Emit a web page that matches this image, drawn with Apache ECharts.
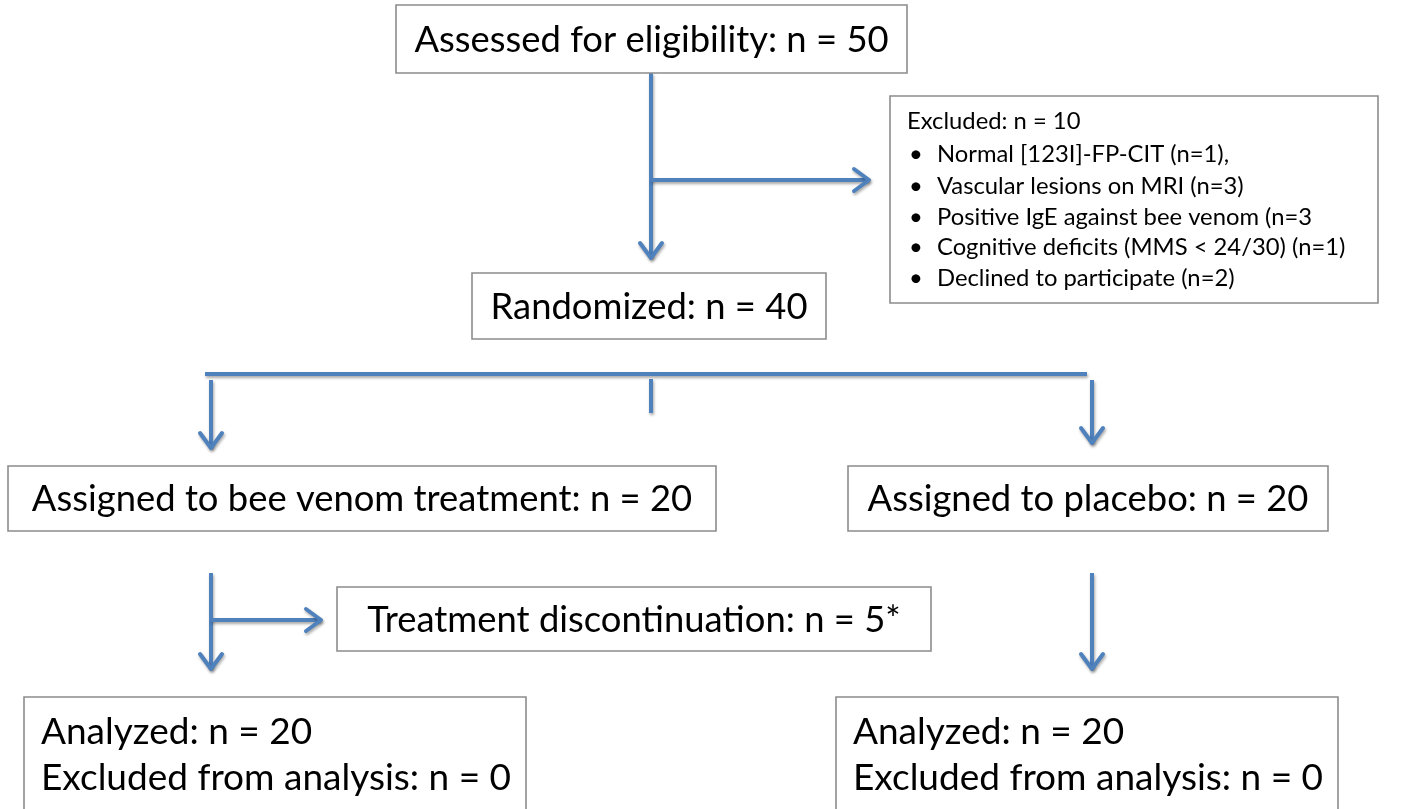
<!DOCTYPE html>
<html>
<head>
<meta charset="utf-8">
<script src="https://cdn.jsdelivr.net/npm/echarts@6/dist/echarts.min.js"></script>
<style>
html,body{margin:0;padding:0;background:#fff;}
#chart{width:1408px;height:809px;}
</style>
</head>
<body>
<div id="chart"></div>
<script>
// ---- Data ----
const stageLabels = ['Assessed for eligibility', 'Randomized', 'Assigned to bee venom treatment', 'Assigned to placebo', 'Treatment discontinuation'];
const stageCounts = [50, 40, 20, 20, 5];
const stageSuffix = ['', '', '', '', '*'];
const excludedLabel = 'Excluded';
const excludedTotal = 10;
const exclusionReasons = ['Normal [123I]-FP-CIT (n={n}),', 'Vascular lesions on MRI (n={n})', 'Positive IgE against bee venom (n={n}', 'Cognitive deficits (MMS < 24/30) (n={n})', 'Declined to participate (n={n})'];
const exclusionCounts = [1, 3, 3, 1, 2];
const analysisGroups = ['bee venom', 'placebo'];
const analyzedCounts = [20, 20];
const excludedFromAnalysis = [0, 0];

// ---- Layout (diagram units) ----
const W = 1408, H = 809;
const FONT = 'Lato, "Open Sans", sans-serif';
const stageBoxes = [
  {x0: 396, y0: 5, x1: 907, y1: 73, fs: 36.4},
  {x0: 472, y0: 273, x1: 826, y1: 339, fs: 36.4},
  {x0: 8, y0: 466, x1: 716, y1: 531, fs: 36.4},
  {x0: 848, y0: 466, x1: 1328, y1: 531, fs: 36.4},
  {x0: 337, y0: 587, x1: 931, y1: 651, fs: 36.4}
];
const excludedBox = {x0: 890, y0: 96, x1: 1378, y1: 303, fs: 23.8, tx: 907, bx: 909, ix: 937, ly: [121, 154, 186, 217, 247, 278]};
const analysisBoxes = [
  {x0: 24, y0: 697, x1: 526, y1: 812, tx: 41, ly: [732, 778], fs: 37},
  {x0: 836, y0: 697, x1: 1338, y1: 812, tx: 853, ly: [732, 778], fs: 37}
];
const connectors = [
  {pts: [[651, 73], [651, 258]], arrow: true},
  {pts: [[651, 180], [869, 180]], arrow: true},
  {pts: [[205, 374], [1087, 374]], arrow: false},
  {pts: [[651, 379], [651, 413]], arrow: false},
  {pts: [[211, 380], [211, 448]], arrow: true},
  {pts: [[1092, 380], [1092, 443]], arrow: true},
  {pts: [[211, 573], [211, 669]], arrow: true},
  {pts: [[211, 620], [321, 620]], arrow: true},
  {pts: [[1092, 573], [1092, 669]], arrow: true}
];

const LINE = '#4f81bd';
const BORDER = '#8c8c8c';

function boxRect(api, b) {
  const p0 = api.coord([b.x0, b.y0]);
  const p1 = api.coord([b.x1, b.y1]);
  return {
    type: 'rect',
    shape: {x: p0[0], y: p0[1], width: p1[0] - p0[0], height: p1[1] - p0[1]},
    style: {fill: '#fff', stroke: BORDER, lineWidth: 1.6}
  };
}
function txt(api, x, y, s, fs, align) {
  const p = api.coord([x, y]);
  return {
    type: 'text',
    style: {x: p[0], y: p[1], text: s, fill: '#000', fontSize: fs, fontFamily: FONT, align: align, verticalAlign: 'middle'}
  };
}

const nodeItems = [];
stageBoxes.forEach((b, i) => nodeItems.push({kind: 'stage', i: i}));
nodeItems.push({kind: 'excluded', i: 0});
analysisBoxes.forEach((b, i) => nodeItems.push({kind: 'analysis', i: i}));

const option = {
  animation: false,
  backgroundColor: '#fff',
  grid: {left: 0, right: 0, top: 0, bottom: 0},
  xAxis: {type: 'value', min: 0, max: W, show: false},
  yAxis: {type: 'value', min: 0, max: H, inverse: true, show: false},
  series: [
    {
      type: 'custom',
      coordinateSystem: 'cartesian2d',
      clip: false,
      silent: true,
      data: connectors.map((c, i) => [i]),
      renderItem: function (params, api) {
        const c = connectors[params.dataIndex];
        const pts = c.pts.map(p => api.coord(p));
        const shadow = {shadowBlur: 3, shadowColor: 'rgba(0,0,0,0.35)', shadowOffsetX: 1, shadowOffsetY: 2};
        const children = [{
          type: 'polyline',
          shape: {points: pts},
          style: Object.assign({stroke: LINE, lineWidth: 4, fill: null, lineCap: 'butt'}, shadow)
        }];
        if (c.arrow) {
          const a = pts[pts.length - 2], e = pts[pts.length - 1];
          const dx = e[0] - a[0], dy = e[1] - a[1];
          const len = Math.sqrt(dx * dx + dy * dy);
          const ux = dx / len, uy = dy / len;
          const back = 15, half = 11;
          const bx = e[0] - ux * back, by = e[1] - uy * back;
          children.push({
            type: 'polyline',
            shape: {points: [[bx - uy * half, by + ux * half], [e[0], e[1]], [bx + uy * half, by - ux * half]]},
            style: Object.assign({stroke: LINE, lineWidth: 4, fill: null, lineCap: 'round', lineJoin: 'round'}, shadow)
          });
        }
        return {type: 'group', children: children};
      }
    },
    {
      type: 'custom',
      coordinateSystem: 'cartesian2d',
      clip: false,
      silent: true,
      data: nodeItems.map((n, i) => [i]),
      renderItem: function (params, api) {
        const n = nodeItems[params.dataIndex];
        const children = [];
        if (n.kind === 'stage') {
          const b = stageBoxes[n.i];
          children.push(boxRect(api, b));
          const s = stageLabels[n.i] + ': n = ' + stageCounts[n.i] + stageSuffix[n.i];
          children.push(txt(api, (b.x0 + b.x1) / 2, (b.y0 + b.y1) / 2 + 1, s, b.fs, 'center'));
        } else if (n.kind === 'excluded') {
          const b = excludedBox;
          children.push(boxRect(api, b));
          children.push(txt(api, b.tx, b.ly[0], excludedLabel + ': n = ' + excludedTotal, b.fs, 'left'));
          exclusionReasons.forEach((r, k) => {
            children.push(txt(api, b.bx, b.ly[k + 1], '\u2022', b.fs, 'left'));
            children.push(txt(api, b.ix, b.ly[k + 1], r.replace('{n}', exclusionCounts[k]), b.fs, 'left'));
          });
        } else {
          const b = analysisBoxes[n.i];
          children.push(boxRect(api, b));
          children.push(txt(api, b.tx, b.ly[0], 'Analyzed: n = ' + analyzedCounts[n.i], b.fs, 'left'));
          children.push(txt(api, b.tx, b.ly[1], 'Excluded from analysis: n = ' + excludedFromAnalysis[n.i], b.fs, 'left'));
        }
        return {type: 'group', children: children};
      }
    }
  ]
};

const chart = echarts.init(document.getElementById('chart'), null, {renderer: 'canvas'});
chart.setOption(option);
</script>
</body>
</html>
